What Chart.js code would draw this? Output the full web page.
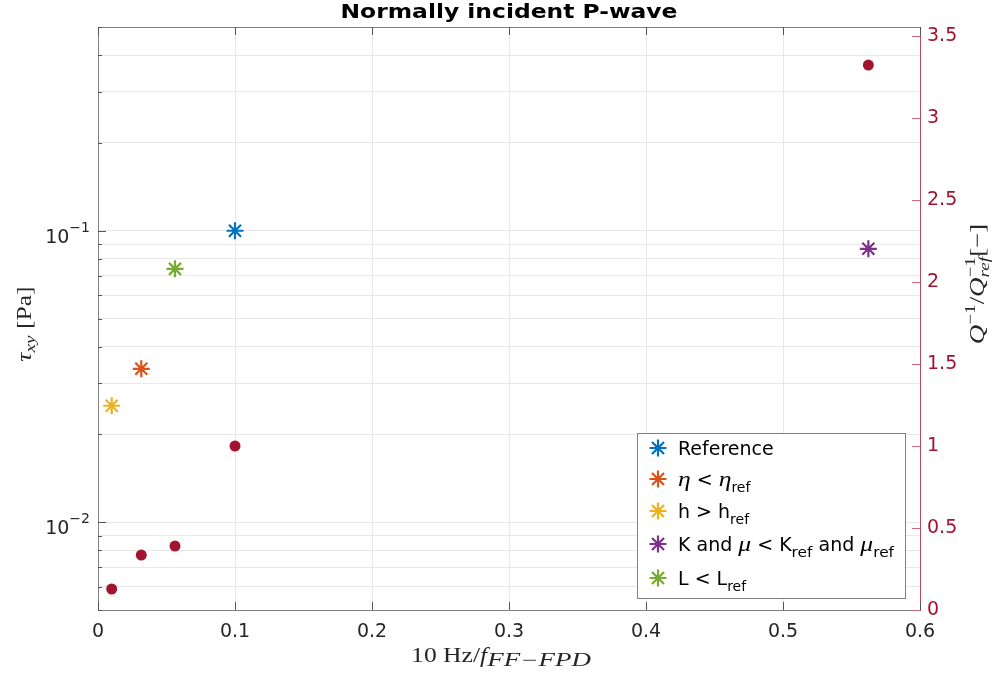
<!DOCTYPE html>
<html><head><meta charset="utf-8">
<script src="https://cdn.jsdelivr.net/npm/chart.js"></script>
<style>html,body{margin:0;padding:0;background:#fff}#wrap{width:995px;height:677px;position:relative}</style>
</head><body><div id="wrap"><canvas id="c"></canvas></div>
<script>
// ---- data ----
const seriesNames = ['Reference', 'η < η_ref', 'h > h_ref', 'K and μ < K_ref and μ_ref', 'L < L_ref'];
const freqRatio = [0.1, 0.0316, 0.01, 0.5623, 0.0562];
const stressTau = [0.1, 0.0336, 0.0251, 0.0867, 0.074];
const attenRatio = [1.0, 0.335, 0.128, 3.323, 0.39];
const seriesColors = ['#0072BD', '#D95319', '#EDB120', '#7E2F8E', '#77AC30'];
const dotColor = '#A2142F';
const xTicks = [0, 0.1, 0.2, 0.3, 0.4, 0.5, 0.6];
const yLogTicks = [0.005,0.006,0.007,0.008,0.009,0.01,0.02,0.03,0.04,0.05,0.06,0.07,0.08,0.09,0.1,0.2,0.3,0.4,0.5];
const yLogMajor = [0.01, 0.1];
const yLogLabels = [['10','−2'], ['10','−1']];
const y2Ticks = [0, 0.5, 1, 1.5, 2, 2.5, 3, 3.5];

const SANS = '"DejaVu Sans", sans-serif';
const SERIF = '"Liberation Serif", "DejaVu Serif", serif';

const datasets = seriesNames.map((n, i) => ({
  label: n,
  data: [{x: freqRatio[i], y: stressTau[i]}],
  yAxisID: 'y',
  pointStyle: 'star',
  pointRadius: 8.5,
  pointBorderWidth: 2.2,
  borderColor: seriesColors[i],
  backgroundColor: seriesColors[i],
  showLine: false
}));
datasets.push({
  label: 'Q ratio',
  data: freqRatio.map((x, i) => ({x, y: attenRatio[i]})),
  yAxisID: 'y2',
  pointStyle: 'circle',
  pointRadius: 5.5,
  pointBorderWidth: 0,
  borderColor: dotColor,
  backgroundColor: dotColor,
  showLine: false
});

function drawRich(ctx, segs, x, y, align) {
  let w = 0;
  const widths = segs.map(s => { ctx.font = s.f; const sw = ctx.measureText(s.t).width * (s.sx || 1); if (!s.noAdv) w += sw; return sw; });
  let cx = align === 'center' ? x - w / 2 : (align === 'right' ? x - w : x);
  ctx.textAlign = 'left';
  ctx.textBaseline = 'alphabetic';
  segs.forEach((s, i) => {
    ctx.font = s.f;
    ctx.save();
    ctx.translate(cx, y + (s.dy || 0));
    ctx.scale(s.sx || 1, 1);
    ctx.fillText(s.t, 0, 0);
    ctx.restore();
    if (!s.noAdv) cx += widths[i];
  });
}

const drawPlugin = {
  id: 'extras',
  afterDraw(chart) {
    const ctx = chart.ctx;
    const a = chart.chartArea;
    const xs = chart.scales.x, ys = chart.scales.y, y2 = chart.scales.y2;
    ctx.save();
    // box top border
    ctx.strokeStyle = '#808080'; ctx.lineWidth = 1;
    ctx.beginPath(); ctx.moveTo(a.left, a.top + 0.5); ctx.lineTo(a.right, a.top + 0.5); ctx.stroke();
    // inward ticks x (bottom & top)
    ctx.strokeStyle = '#555';
    xTicks.forEach(v => {
      const px = Math.round(xs.getPixelForValue(v)) + 0.5;
      ctx.beginPath(); ctx.moveTo(px, a.bottom); ctx.lineTo(px, a.bottom - 8); ctx.stroke();
      ctx.beginPath(); ctx.moveTo(px, a.top); ctx.lineTo(px, a.top + 8); ctx.stroke();
    });
    // inward ticks left log
    yLogTicks.forEach(v => {
      const py = Math.round(ys.getPixelForValue(v)) + 0.5;
      const len = yLogMajor.includes(v) ? 8 : 4;
      ctx.beginPath(); ctx.moveTo(a.left, py); ctx.lineTo(a.left + len, py); ctx.stroke();
    });
    // inward ticks right
    ctx.strokeStyle = '#C96A7B';
    y2Ticks.forEach(v => {
      const py = Math.round(y2.getPixelForValue(v)) + 0.5;
      ctx.beginPath(); ctx.moveTo(a.right, py); ctx.lineTo(a.right - 8, py); ctx.stroke();
    });
    // left log tick labels with superscripts
    ctx.fillStyle = '#262626';
    yLogMajor.forEach((v, i) => {
      const py = ys.getPixelForValue(v);
      drawRich(ctx, [
        {t: yLogLabels[i][0], f: '19px ' + SANS, dy: 12},
        {t: yLogLabels[i][1], f: '14px ' + SANS, dy: 1}
      ], a.left - 8, py, 'right');
    });
    // title
    ctx.fillStyle = '#000';
    drawRich(ctx, [{t: 'Normally incident P-wave', f: 'bold 20px ' + SANS, sx: 1.17}], (a.left + a.right) / 2, 18, 'center');
    // x axis title
    ctx.fillStyle = '#262626';
    const SX = 1.28;
    drawRich(ctx, [
      {t: '10 Hz/', f: '20px ' + SERIF, sx: SX},
      {t: 'f', f: 'italic 20px ' + SERIF, sx: SX},
      {t: 'FF−FPD', f: 'italic 18px ' + SERIF, dy: 4, sx: 1.5}
    ], (a.left + a.right) / 2 - 8, 662, 'center');
    // left axis title
    ctx.save();
    ctx.translate(31, 324); ctx.rotate(-Math.PI / 2);
    drawRich(ctx, [
      {t: 'τ', f: 'italic 20px ' + SERIF, sx: SX},
      {t: 'xy', f: 'italic 15px ' + SERIF, dy: 4, sx: SX},
      {t: ' [Pa]', f: '20px ' + SERIF, sx: SX}
    ], 0, 0, 'center');
    ctx.restore();
    // right axis title
    ctx.save();
    ctx.translate(984, 284); ctx.rotate(-Math.PI / 2);
    drawRich(ctx, [
      {t: 'Q', f: 'italic 21px ' + SERIF, sx: SX},
      {t: '−1', f: '15px ' + SERIF, dy: -9, sx: SX},
      {t: '/', f: '21px ' + SERIF, sx: SX},
      {t: 'Q', f: 'italic 21px ' + SERIF, sx: SX},
      {t: '−1', f: '15px ' + SERIF, dy: -9, noAdv: true, sx: SX},
      {t: 'ref', f: 'italic 15px ' + SERIF, dy: 5, sx: SX},
      {t: '[−]', f: '21px ' + SERIF, sx: SX}
    ], 0, 0, 'center');
    ctx.restore();
    // legend
    const L = {x: 637, y: 433, w: 268, h: 165};
    ctx.fillStyle = '#fff';
    ctx.fillRect(L.x, L.y, L.w, L.h);
    ctx.strokeStyle = '#808080'; ctx.lineWidth = 1;
    ctx.strokeRect(L.x + 0.5, L.y + 0.5, L.w, L.h);
    const rows = [448, 479, 511, 544, 578];
    const main = '19px ' + SANS, sub = '14px ' + SANS, mth = 'italic 20px ' + SERIF;
    const texts = [
      [{t: 'Reference', f: main}],
      [{t: 'η', f: mth, sx: SX}, {t: ' < ', f: main}, {t: 'η', f: mth, sx: SX}, {t: 'ref', f: sub, dy: 6}],
      [{t: 'h > h', f: main}, {t: 'ref', f: sub, dy: 6}],
      [{t: 'K and ', f: main}, {t: 'μ', f: mth, sx: SX}, {t: ' < K', f: main}, {t: 'ref', f: sub, dy: 6, sx: 1.1}, {t: ' and ', f: main}, {t: 'μ', f: mth, sx: SX}, {t: 'ref', f: sub, dy: 6, sx: 1.1}],
      [{t: 'L < L', f: main}, {t: 'ref', f: sub, dy: 6}]
    ];
    rows.forEach((ry, i) => {
      ctx.save();
      ctx.strokeStyle = seriesColors[i]; ctx.fillStyle = seriesColors[i]; ctx.lineWidth = 2.2;
      Chart.helpers.drawPoint(ctx, {pointStyle: 'star', radius: 8.5, borderWidth: 2.2}, 658, ry);
      ctx.restore();
      ctx.fillStyle = '#000';
      drawRich(ctx, texts[i], 678, ry + 7, 'left');
    });
    ctx.restore();
  }
};

new Chart(document.getElementById('c'), {
  type: 'scatter',
  data: {datasets},
  plugins: [drawPlugin],
  options: {
    responsive: true, maintainAspectRatio: false, animation: false,
    layout: {padding: {top: 27, left: 0, right: 0, bottom: 0}},
    plugins: {legend: {display: false}, title: {display: false}, tooltip: {enabled: false}},
    scales: {
      x: {
        type: 'linear', min: 0, max: 0.6,
        afterBuildTicks: s => { s.ticks = xTicks.map(v => ({value: v})); },
        afterFit: s => { s.height = 67; },
        ticks: {font: {family: SANS, size: 19}, color: '#262626', padding: 11,
          callback: v => v === 0 ? '0' : v.toFixed(1), maxRotation: 0},
        grid: {color: '#e8e8e8', drawTicks: false},
        border: {color: '#808080'}
      },
      y: {
        type: 'logarithmic', position: 'left', min: 0.005, max: 0.5,
        afterBuildTicks: s => { s.ticks = yLogTicks.map(v => ({value: v})); },
        afterFit: s => { s.width = 98; },
        ticks: {callback: () => '', font: {size: 1}},
        grid: {color: '#e8e8e8', drawTicks: false},
        border: {color: '#808080'}
      },
      y2: {
        type: 'linear', position: 'right', min: 0, max: 3.555,
        afterBuildTicks: s => { s.ticks = y2Ticks.map(v => ({value: v})); },
        afterFit: s => { s.width = 75; },
        ticks: {font: {family: SANS, size: 19}, color: dotColor, padding: 7,
          callback: v => String(v)},
        grid: {drawOnChartArea: false, drawTicks: false},
        border: {color: '#B9475C'}
      }
    }
  }
});
</script>
</body></html>
